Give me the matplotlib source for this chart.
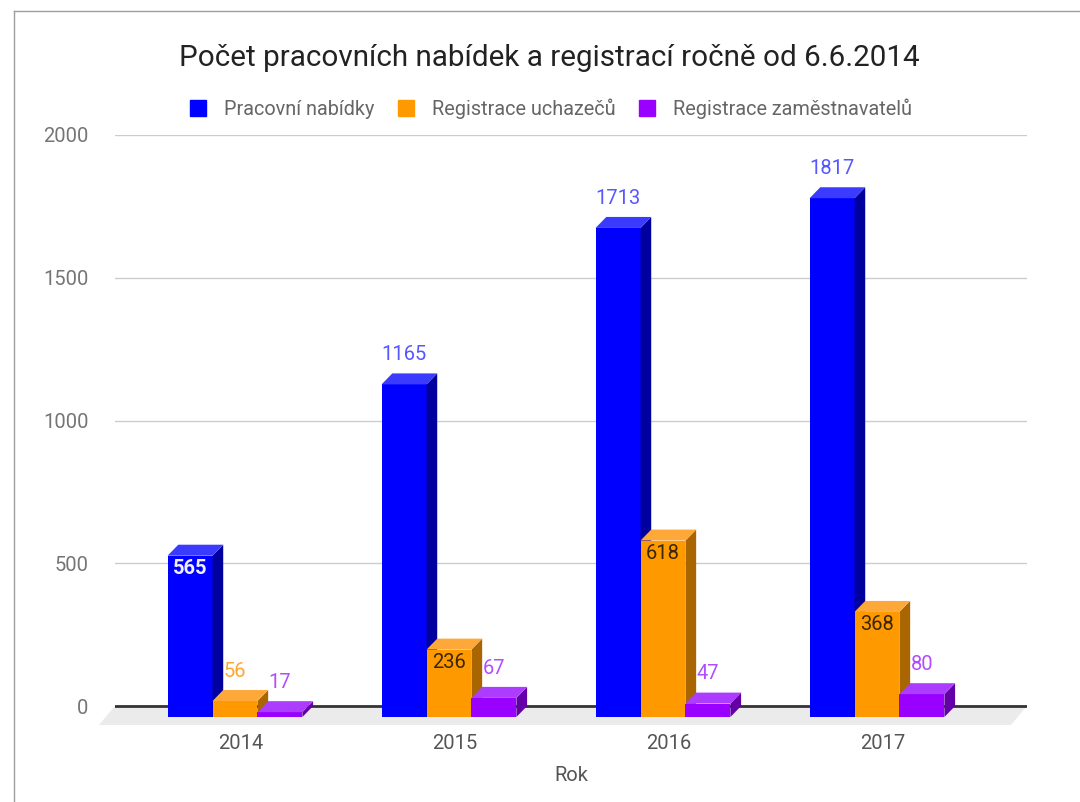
import matplotlib.pyplot as plt
from matplotlib.patches import Polygon
from matplotlib.lines import Line2D

plt.rcParams["font.family"] = ["Roboto", "DejaVu Sans"]

# data
years = ["2014", "2015", "2016", "2017"]
series_names = ["Pracovní nabídky", "Registrace uchazečů", "Registrace zaměstnavatelů"]
offers = [565, 1165, 1713, 1817]
seekers = [56, 236, 618, 368]
employers = [17, 67, 47, 80]
y_ticks = [0, 500, 1000, 1500, 2000]

# which value labels sit inside the bar (as in the original chart)
label_inside = [
    [True, False, False, False],
    [False, True, True, True],
    [False, False, False, False],
]

# front, side, top, outside label, inside label
palette = [
    ("#0000ff", "#00009e", "#3b3bff", "#5757ff", "#eeeeff"),
    ("#ff9900", "#a86500", "#ffa83a", "#ffa733", "#3a2600"),
    ("#9900ff", "#6400a8", "#ac3cff", "#b24cff", "#ffffff"),
]

BAR_W = 0.21
DEPTH_X = 0.05
DEPTH_Y = 38.5
FLOOR_X = 0.075
FLOOR_Y = 66.5
X_MIN, X_MAX = -0.5607, 3.701
FS = 14.5

fig = plt.figure(figsize=(10.8, 8.02), dpi=100)
ax = fig.add_axes([115 / 1080, (802 - 726) / 802, (1027 - 115) / 1080, (726 - 135) / 802])
ax.set_xlim(X_MIN, X_MAX)
ax.set_ylim(-70, 2000)

# floor
ax.add_patch(Polygon([(X_MIN, 0), (X_MAX, 0), (X_MAX - FLOOR_X, -FLOOR_Y), (X_MIN - FLOOR_X, -FLOOR_Y)],
                     closed=True, facecolor="#ebebeb", edgecolor="none", zorder=0, clip_on=False))

for y in y_ticks[1:]:
    ax.axhline(y, color="#cccccc", lw=1, zorder=1)
ax.axhline(0, color="#333333", lw=2, zorder=1)

for j, values in enumerate([offers, seekers, employers]):
    front, side, top, lab_out, lab_in = palette[j]
    for i, v in enumerate(values):
        x0 = i - 1.5 * BAR_W + j * BAR_W
        x1 = x0 + BAR_W
        z = 3 + j
        ax.bar(x0, v, width=BAR_W, bottom=-DEPTH_Y, align="edge", color=front, zorder=z, clip_on=False)
        ax.add_patch(Polygon([(x1, -DEPTH_Y), (x1 + DEPTH_X, 0), (x1 + DEPTH_X, v), (x1, v - DEPTH_Y)],
                             closed=True, facecolor=side, edgecolor="none", zorder=z, clip_on=False))
        ax.add_patch(Polygon([(x0, v - DEPTH_Y), (x1, v - DEPTH_Y), (x1 + DEPTH_X, v), (x0 + DEPTH_X, v)],
                             closed=True, facecolor=top, edgecolor="none", zorder=z, clip_on=False))
        xc = (x0 + x1) / 2
        if label_inside[j][i]:
            ax.annotate(str(v), (xc, v - DEPTH_Y), xytext=(0, -9), textcoords="offset points",
                        ha="center", va="center", fontsize=FS, color=lab_in, zorder=10,
                        fontweight="bold" if j == 0 else "normal")
        else:
            ax.annotate(str(v), (xc, v), xytext=(0, 13.5), textcoords="offset points",
                        ha="center", va="center", fontsize=FS, color=lab_out, zorder=10)

for s in ax.spines.values():
    s.set_visible(False)
ax.set_yticks(y_ticks)
ax.set_yticklabels([str(t) for t in y_ticks])
ax.set_xticks([i + DEPTH_X / 2 for i in range(len(years))])
ax.set_xticklabels(years)
ax.tick_params(axis="y", length=0, pad=19, labelsize=FS, labelcolor="#757575")
ax.tick_params(axis="x", length=0, pad=6, labelsize=FS, labelcolor="#555555")
ax.set_xlabel("Rok", fontsize=FS, color="#555555", labelpad=9)

fig.text(549 / 1080, 1 - 58 / 802, "Počet pracovních nabídek a registrací ročně od 6.6.2014",
         ha="center", va="center", fontsize=21.3, color="#222222")

handles = [Line2D([], [], marker="s", linestyle="none", markersize=12, color=palette[k][0])
           for k in range(3)]
fig.legend(handles, series_names, loc="center", bbox_to_anchor=(550 / 1080, 1 - 109 / 802),
           ncol=3, frameon=False, fontsize=14.3, labelcolor="#666666",
           handletextpad=0.8, columnspacing=1.1, handlelength=1.0)

fig.add_artist(Line2D([14 / 1080, 1], [1 - 11 / 802] * 2, color="#9e9e9e", lw=1))
fig.add_artist(Line2D([14 / 1080] * 2, [0, 1 - 11 / 802], color="#9e9e9e", lw=1))

fig.savefig("out.png", dpi=100)
